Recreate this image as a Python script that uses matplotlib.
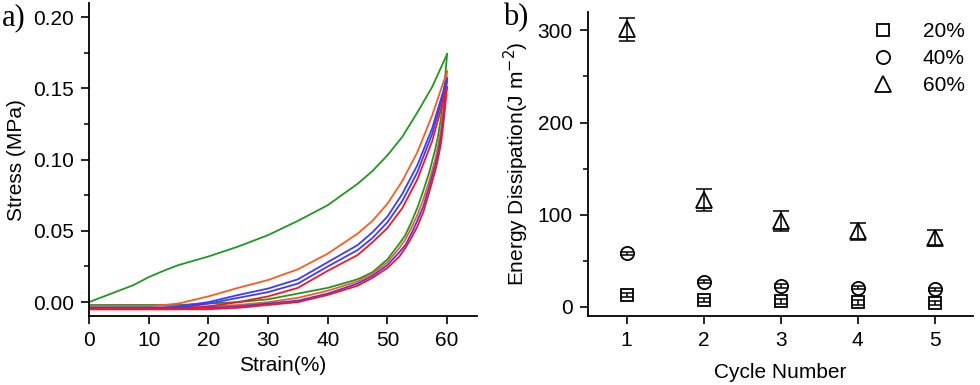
import matplotlib
matplotlib.use("Agg")
import matplotlib.pyplot as plt
from matplotlib.ticker import MultipleLocator

plt.rcParams["font.family"] = ["Liberation Sans", "DejaVu Sans"]

# ---------------------------------------------------------------------------
# a) cyclic stress-strain loops (values read off the figure)
# ---------------------------------------------------------------------------
load_strain = [0, 2.5, 5, 7.5, 10, 12.5, 15, 20, 25, 30, 35, 40, 45, 47.5,
               50, 52.5, 55, 57.5, 60]
green_load = [0.000, 0.004, 0.008, 0.012, 0.0175, 0.022, 0.026, 0.032, 0.039,
              0.047, 0.057, 0.068, 0.083, 0.092, 0.103, 0.116, 0.133, 0.151,
              0.174]
orange_load = [-0.003, -0.003, -0.003, -0.003, -0.003, -0.002, -0.001, 0.004,
               0.010, 0.0155, 0.023, 0.034, 0.048, 0.057, 0.069, 0.085, 0.105,
               0.131, 0.162]
blue1_load = [-0.004, -0.004, -0.004, -0.004, -0.004, -0.004, -0.003, 0.000,
              0.005, 0.0095, 0.016, 0.028, 0.040, 0.049, 0.060, 0.076, 0.096,
              0.122, 0.157]
blue2_load = [-0.004, -0.004, -0.004, -0.004, -0.004, -0.004, -0.004, -0.001,
              0.003, 0.007, 0.013, 0.025, 0.0365, 0.045, 0.056, 0.071, 0.091,
              0.118, 0.155]
red_load = [-0.005, -0.005, -0.005, -0.005, -0.005, -0.005, -0.005, -0.003,
            0.000, 0.004, 0.010, 0.022, 0.033, 0.042, 0.052, 0.066, 0.086,
            0.113, 0.151]

unload_strain = [60, 59.5, 59, 58.5, 58, 57, 56, 55, 54, 53, 52, 50, 47.5, 45,
                 40, 35, 30, 25, 20, 15, 10, 5, 0]
green_unload = [0.174, 0.150, 0.130, 0.117, 0.107, 0.091, 0.078, 0.066, 0.056,
                0.047, 0.041, 0.030, 0.021, 0.016, 0.010, 0.006, 0.002, 0.000,
                -0.001, -0.002, -0.002, -0.002, -0.002]
orange_unload = [0.162, 0.140, 0.122, 0.110, 0.100, 0.085, 0.072, 0.061, 0.052,
                 0.044, 0.038, 0.028, 0.020, 0.0145, 0.008, 0.003, 0.000,
                 -0.002, -0.003, -0.003, -0.004, -0.004, -0.004]
blue_unload = [0.157, 0.135, 0.117, 0.105, 0.096, 0.081, 0.067, 0.057, 0.048,
               0.040, 0.035, 0.026, 0.0185, 0.013, 0.006, 0.001, -0.001,
               -0.003, -0.004, -0.004, -0.004, -0.004, -0.004]
red_unload = [0.151, 0.130, 0.112, 0.101, 0.092, 0.077, 0.063, 0.053, 0.045,
              0.038, 0.032, 0.024, 0.017, 0.0115, 0.005, 0.000, -0.002,
              -0.004, -0.005, -0.005, -0.005, -0.005, -0.005]

GREEN = "#1c9a1c"
ORANGE = "#ff5a1e"
BLUE = "#3c3cff"
RED = "#ff1414"

# ---------------------------------------------------------------------------
# b) energy dissipation per cycle
# ---------------------------------------------------------------------------
cycles = [1, 2, 3, 4, 5]
e20 = [13, 7.5, 6, 5, 4]
e20_err = [2.5, 2.5, 2.5, 2.5, 2.5]
e40 = [58, 27.5, 23, 21, 19]
e40_err = [2, 2, 2, 2, 2]
e60 = [301, 116, 93, 82, 75]
e60_err = [12, 12, 11, 9, 8.3]

FS = 15

fig = plt.figure(figsize=(9.8, 3.85), dpi=100)
axa = fig.add_axes([0.0908, 0.179, 0.3959, 0.813])
axb = fig.add_axes([0.600, 0.179, 0.393, 0.790])


def style(ax):
    for s in ("top", "right"):
        ax.spines[s].set_visible(False)
    for s in ("left", "bottom"):
        ax.spines[s].set_linewidth(1.3)
    ax.tick_params(which="major", direction="out", length=6, width=1.2,
                   labelsize=FS, pad=5)
    ax.tick_params(which="minor", direction="out", length=3.5, width=1.1)


# --- panel a ---
lw = 1.3
curves = [
    (load_strain, green_load, GREEN),
    (unload_strain, green_unload, GREEN),
    (load_strain, orange_load, ORANGE),
    (unload_strain, orange_unload, ORANGE),
    (load_strain, blue1_load, BLUE),
    (load_strain, blue2_load, BLUE),
    (unload_strain, blue_unload, BLUE),
    (load_strain, red_load, RED),
    (unload_strain, red_unload, RED),
]
for xs, ys, c in curves:
    axa.plot(xs, ys, color=c, lw=lw)

axa.set_xlim(0, 65)
axa.set_ylim(-0.0098, 0.2098)
axa.xaxis.set_major_locator(MultipleLocator(10))
axa.yaxis.set_minor_locator(MultipleLocator(0.025))
axa.set_yticks([0, 0.05, 0.10, 0.15, 0.20])
axa.set_yticklabels(["0.00", "0.05", "0.10", "0.15", "0.20"])
style(axa)
axa.set_xlabel("Strain(%)", fontsize=FS, labelpad=4)
axa.set_ylabel("Stress (MPa)", fontsize=FS, labelpad=5)

# --- panel b ---
# markers first, error bars over them (they show through the hollow symbols)
mk = dict(mfc="white", mec="black", mew=1.3, linestyle="none", zorder=2)
eb = dict(fmt="none", ecolor="black", elinewidth=1.1, capthick=1.1, zorder=3)
h20, = axb.plot(cycles, e20, marker="s", ms=8.5, label="20%", **mk)
h40, = axb.plot(cycles, e40, marker="o", ms=9.5, label="40%", **mk)
h60, = axb.plot(cycles, e60, marker="^", ms=12, label="60%", **mk)
axb.errorbar(cycles, e20, yerr=e20_err, capsize=4.5, **eb)
axb.errorbar(cycles, e40, yerr=e40_err, capsize=5, **eb)
axb.errorbar(cycles, e60, yerr=e60_err, capsize=5.5, **eb)

axb.set_xlim(0.5, 5.5)
axb.set_ylim(-10, 320)
axb.set_xticks(cycles)
axb.yaxis.set_major_locator(MultipleLocator(100))
axb.yaxis.set_minor_locator(MultipleLocator(50))
style(axb)
axb.set_xlabel("Cycle Number", fontsize=FS, labelpad=9)
axb.set_ylabel("Energy Dissipation(J m$^{-2}$)", fontsize=FS, labelpad=5)

axb.legend([h20, h40, h60], ["20%", "40%", "60%"], loc="upper right",
           frameon=False, fontsize=FS, handletextpad=1.3, labelspacing=0.38,
           handlelength=1.2, borderaxespad=0.1, bbox_to_anchor=(1.005, 1.0))

fig.text(0.002, 0.955, "a)", family=["Liberation Serif"], fontsize=22,
         ha="left", va="center")
fig.text(0.513, 0.955, "b)", family=["Liberation Serif"], fontsize=22,
         ha="left", va="center")

fig.savefig("out.png", dpi=100)
